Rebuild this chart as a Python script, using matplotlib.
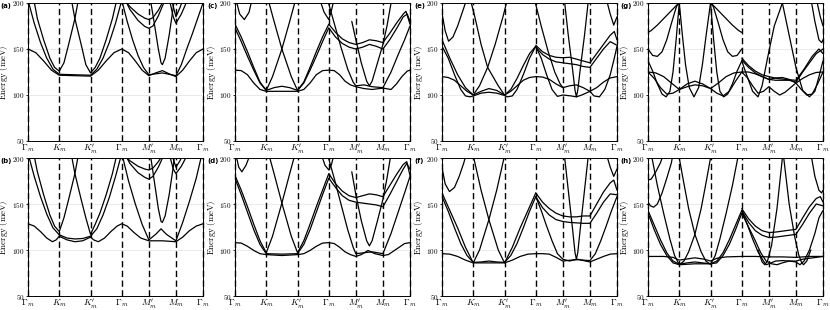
import numpy as np
import matplotlib
matplotlib.use("Agg")
import matplotlib.pyplot as plt

plt.rcParams['mathtext.fontset'] = 'cm'
plt.rcParams['font.family'] = 'serif'
plt.rcParams['font.serif'] = ['DejaVu Serif']

# high-symmetry path: Gamma-K-K'-Gamma-M'-M-Gamma, position s = segment index + fraction
tick_labels = [r'$\Gamma_m$', r'$K_m$', r"$K_m'$", r'$\Gamma_m$', r"$M_m'$", r'$M_m$', r'$\Gamma_m$']
seg_len = [1 / np.sqrt(3)] * 3 + [0.5] * 3
yticks = [50, 100, 150, 200]
panel_names = ['(a)', '(b)', '(c)', '(d)', '(e)', '(f)', '(g)', '(h)']

# bands: lists of (s, energy in meV)
bands_a = [
    [(0,150),(0.25,146),(0.5,137),(0.75,127),(1,121.5),(1.5,121),(2,120.5),(2.25,127),(2.5,137),(2.75,146),(3,150),
     (3.25,146),(3.5,137),(3.75,127),(4,121),(4.25,124),(4.5,126.5),(4.75,123),(5,120),(5.25,127),(5.5,137),(5.75,146),(6,150)],
    [(0,203),(0.2,178),(0.4,157),(0.6,140),(0.8,128),(1,122.5),(1.5,122),(2,121.5),(2.2,128),(2.4,140),(2.6,157),(2.8,178),(3,203),
     (3.2,180),(3.4,160),(3.6,143),(3.8,130),(4,122),(4.5,124),(5,121),(5.2,133),(5.4,150),(5.6,166),(5.8,183),(6,200)],
    [(0.15,210),(0.3,183),(0.5,160),(0.7,140),(0.85,130),(1,126),(1.15,135),(1.3,155),(1.5,183),(1.62,205)],
    [(1.38,205),(1.5,183),(1.7,155),(1.85,133),(2,124),(2.15,130),(2.3,140),(2.5,160),(2.7,183),(2.85,205)],
    [(3.05,205),(3.3,196),(3.6,188),(3.85,183.5),(4,182),(4.15,184),(4.35,192),(4.55,203)],
    [(3.1,205),(3.3,193),(3.6,181),(3.85,174.5),(4,172.5),(4.15,175),(4.35,186),(4.55,200),(4.65,208)],
    [(4.05,205),(4.2,178),(4.35,150),(4.45,135),(4.5,133),(4.6,140),(4.75,165),(4.9,195),(4.95,205)],
    [(4.8,208),(5,185),(5.15,195),(5.3,207)],
    [(4.75,205),(4.9,185),(5,178),(5.2,188),(5.45,205)],
]

bands_b = [
    [(0,128.5),(0.2,126),(0.4,120),(0.6,113),(0.78,109),(0.9,111),(1,115),(1.25,111),(1.5,109),(1.75,110),(2,114),(2.1,111),
     (2.25,109),(2.45,113),(2.65,120),(2.85,126),(3,128.5),(3.2,126),(3.45,119),(3.7,113),(4,110),(4.5,110),(5,109),
     (5.25,114),(5.5,121),(5.75,126),(6,128.5)],
    [(0,205),(0.2,180),(0.4,158),(0.6,139),(0.8,124),(1,116.5),(1.25,113),(1.5,112),(1.75,112.5),(2,115),(2.2,123),(2.4,138),
     (2.6,157),(2.8,180),(3,205),(3.25,175),(3.5,150),(3.75,128),(4,111),(4.25,117),(4.45,123),(4.65,117),(5,110),
     (5.25,130),(5.5,153),(5.75,178),(5.95,203)],
    [(0.15,210),(0.3,185),(0.5,160),(0.7,138),(0.85,126),(1,120),(1.15,135),(1.3,155),(1.5,183),(1.62,205)],
    [(1.38,205),(1.5,183),(1.7,155),(1.85,135),(2,117),(2.15,128),(2.3,140),(2.5,160),(2.7,183),(2.85,205)],
    [(3.05,205),(3.3,197),(3.6,191),(3.85,188),(4,187),(4.15,189),(4.35,196),(4.55,205)],
    [(3.1,205),(3.3,194),(3.6,184),(3.85,179),(4,177),(4.15,180),(4.35,190),(4.55,203)],
    [(4.05,205),(4.2,175),(4.35,145),(4.45,131),(4.5,130),(4.6,137),(4.75,160),(4.9,190),(4.95,205)],
    [(4.8,208),(5,190),(5.15,197),(5.3,207)],
    [(4.75,205),(4.9,188),(5,183),(5.2,191),(5.45,205)],
]

bands_c = [
    [(0,127),(0.2,126.5),(0.4,122),(0.6,113),(0.8,106),(1,104),(1.5,104),(2,104),(2.2,106),(2.4,113),(2.6,122),(2.8,126.5),(3,127),
     (3.2,126.5),(3.4,122),(3.6,115),(3.8,111),(4,109),(4.3,107),(4.6,106),(5,107.5),(5.3,106),(5.5,112),(5.7,120),(5.9,126),(6,127)],
    [(0,173),(0.2,158),(0.4,142),(0.6,127),(0.8,113),(1,105),(1.25,108),(1.5,109.5),(1.75,108),(2,105),(2.2,113),(2.4,127),(2.6,142),
     (2.8,158),(3,173),(3.25,163),(3.5,156),(3.75,152),(4,150),(4.25,152),(4.5,155),(4.75,153),(5,150),(5.25,160),(5.5,172),
     (5.75,185),(5.9,188),(6,180)],
    [(0,177),(0.2,163),(0.4,147),(0.6,130),(0.8,114),(1,105),(1.2,120),(1.5,150),(1.75,180),(1.95,205)],
    [(1.05,205),(1.25,180),(1.5,150),(1.8,120),(2,105),(2.2,114),(2.4,130),(2.6,147),(2.8,163),(3,177),(3.25,168),(3.5,161),
     (3.75,157),(4,155),(4.25,157),(4.5,160),(4.75,159),(5,157),(5.25,167),(5.5,178),(5.75,188),(5.85,191),(6,177)],
    [(2.95,205),(3.2,178),(3.45,152),(3.7,128),(3.9,114),(4,110),(4.3,111),(4.6,109),(5,108),(5.3,125),(5.55,143),(5.8,160),(6,175)],
    [(3.85,180),(4,160),(4.2,135),(4.4,115),(4.5,110),(4.6,115),(4.8,135),(5,155),(5.15,175),(5.3,200)],
    [(0.02,205),(0.15,188),(0.3,182),(0.45,190),(0.55,205)],
    [(2.7,205),(2.85,190),(3,182),(3.1,192),(3.2,205)],
]

bands_d = [
    [(0,108),(0.2,107.5),(0.4,104),(0.6,99.5),(0.8,96),(1,95),(1.5,94),(2,95),(2.2,96),(2.4,99.5),(2.6,104),(2.8,107.5),(3,108),
     (3.2,107),(3.4,103),(3.6,98),(3.8,95),(4,93),(4.2,95),(4.45,99.5),(4.7,96),(5,94),(5.2,95),(5.4,99),(5.6,103),(5.8,107),(6,108)],
    [(0,178),(0.2,160),(0.4,141),(0.6,122),(0.8,106),(1,96),(1.5,95.5),(2,96),(2.2,106),(2.4,122),(2.6,141),(2.8,160),(3,178),
     (3.25,168),(3.5,159),(3.75,154),(4,152),(4.25,151),(4.5,150),(4.75,149),(5,147),(5.25,160),(5.5,174),(5.75,188),(5.88,194),(6,188)],
    [(0,181),(0.2,165),(0.4,147),(0.6,128),(0.8,110),(1,97),(1.2,115),(1.5,151),(1.75,183),(1.95,208)],
    [(1.05,208),(1.25,183),(1.5,151),(1.8,115),(2,97),(2.2,110),(2.4,128),(2.6,147),(2.8,165),(3,183),(3.25,172),(3.5,164),
     (3.75,159),(4,157),(4.25,159),(4.5,161),(4.75,160),(5,158),(5.25,170),(5.5,182),(5.75,193),(5.88,196),(6,181)],
    [(2.95,205),(3.2,178),(3.45,150),(3.7,122),(3.9,103),(4,96),(4.3,97),(4.6,98),(5,96),(5.3,118),(5.55,140),(5.8,162),(6,180)],
    [(3.85,185),(4,160),(4.2,132),(4.4,110),(4.5,104.5),(4.6,110),(4.8,132),(5,155),(5.15,178),(5.3,205)],
    [(0.02,205),(0.12,190),(0.22,185),(0.35,192),(0.5,205)],
    [(2.75,205),(2.88,192),(3,187),(3.1,193),(3.2,205)],
]

bands_e = [
    [(0,120),(0.2,119),(0.4,116),(0.6,110),(0.8,104),(1,100),(1.25,104),(1.5,107),(1.75,105),(2,100),(2.2,104),(2.4,110),(2.6,116),
     (2.8,119),(3,120),(3.25,119.5),(3.5,117),(3.75,112),(4,108),(4.25,110),(4.5,111),(4.75,108),(5,104),(5.25,108),(5.5,114),
     (5.75,118.5),(6,120)],
    [(0,153),(0.2,140),(0.4,122),(0.6,106),(0.75,99),(0.9,98),(1,99),(1.25,102),(1.5,103),(1.75,102),(2,99.5),(2.1,98),(2.25,99),
     (2.4,106),(2.6,122),(2.8,140),(3,153),(3.2,140),(3.4,122),(3.6,106),(3.8,98.5),(4,100),(4.3,99),(4.5,98),(4.7,100),(5,104),
     (5.15,99),(5.35,98),(5.55,106),(5.75,122),(5.9,140),(6,153)],
    [(0,160),(0.25,140),(0.5,122),(0.75,108),(1,100),(1.2,110),(1.46,130),(1.7,155),(1.95,185),(2.1,205)],
    [(0.9,205),(1.05,185),(1.25,155),(1.46,130),(1.8,110),(2,100),(2.2,106),(2.4,118),(2.6,132),(2.8,145),(3,153)],
    [(0,189),(0.1,170),(0.21,158.5),(0.35,163),(0.5,175),(0.65,190),(0.8,205)],
    [(3,154),(3.25,147),(3.5,143),(3.75,141),(4,140.5),(4.25,141),(4.5,139),(4.75,137),(5,135),(5.25,145),(5.5,155),
     (5.75,165),(5.9,169),(6,160)],
    [(3,152),(3.25,144),(3.5,139),(3.75,136),(4,135),(4.25,134),(4.5,133),(4.75,131),(5,130),(5.25,140),(5.5,150),(5.75,158),(6,154)],
    [(4.05,205),(4.2,165),(4.35,130),(4.45,105),(4.5,98),(4.55,105),(4.65,130),(4.8,165),(4.95,205)],
    [(2.95,205),(3.2,175),(3.45,148),(3.7,125),(3.9,112),(4,108)],
    [(5.6,205),(5.75,188),(5.88,176),(6,185)],
]

bands_f = [
    [(0,96),(0.25,95.5),(0.5,93),(0.75,89),(1,86),(1.5,86),(2,86),(2.25,89),(2.5,93),(2.75,95.5),(3,96),(3.25,96),(3.5,95.5),
     (3.75,92),(4,88),(4.3,89),(4.6,89.5),(5,87),(5.25,90),(5.5,93),(5.75,95.5),(6,96)],
    [(0,158),(0.2,142),(0.4,124),(0.6,107),(0.8,94),(1,86.5),(1.25,87),(1.5,88),(1.75,87),(2,86.5),(2.2,94),(2.4,107),(2.6,124),
     (2.8,142),(3,158),(3.2,143),(3.4,126),(3.6,110),(3.8,96),(4,90),(4.25,88),(4.5,90),(4.75,89),(5,88.5),(5.2,96),(5.4,110),
     (5.6,126),(5.8,143),(6,158)],
    [(0,162),(0.25,143),(0.5,124),(0.75,103),(1,86),(1.2,100),(1.5,133),(1.75,165),(1.95,195),(2.02,205)],
    [(0.98,205),(1.05,195),(1.25,165),(1.5,133),(1.8,100),(2,86),(2.25,103),(2.5,124),(2.75,143),(3,162)],
    [(3,162),(3.25,152),(3.5,145),(3.75,140),(4,137),(4.25,136),(4.5,136),(4.75,137),(5,137),(5.25,150),(5.5,163),(5.75,173),
     (5.88,176),(6,165)],
    [(3,158),(3.25,146),(3.5,138),(3.75,133),(4,131),(4.25,130),(4.5,129.5),(4.75,129),(5,129),(5.25,140),(5.5,152),(5.75,161),(6,160)],
    [(4.05,205),(4.2,165),(4.35,125),(4.45,97),(4.5,90),(4.55,97),(4.65,125),(4.8,165),(4.95,205)],
    [(0,190),(0.1,172),(0.24,163.5),(0.4,168),(0.55,180),(0.7,195),(0.78,205)],
    [(5.6,205),(5.75,190),(5.88,180),(6,188)],
]

bands_g = [
    [(0,125),(0.25,124),(0.5,120),(0.75,113),(1,106),(1.25,112),(1.5,115),(1.75,112),(2,107),(2.25,113),(2.5,120),(2.75,124),(3,125),
     (3.25,125),(3.5,123),(3.75,120),(4,117),(4.25,118.5),(4.5,119),(4.75,117),(5,113),(5.25,118),(5.5,122),(5.75,124.5),(6,125)],
    [(0,125),(0.2,118),(0.4,108),(0.6,101),(0.8,102),(1,106),(1.25,109),(1.5,111),(1.75,110),(2,107),(2.2,102),(2.4,99),(2.6,104),
     (2.8,115),(3,125),(3.2,119),(3.4,110),(3.6,102),(3.8,104),(4,109),(4.2,104),(4.4,100),(4.6,103),(4.8,108),(5,113),(5.2,106),
     (5.4,100),(5.6,101),(5.8,112),(6,125)],
    [(0,137),(0.15,126),(0.3,112),(0.45,101),(0.58,98),(0.7,104),(0.8,125),(0.9,160),(1,200)],
    [(1,200),(1.1,165),(1.2,133),(1.32,108),(1.47,98),(1.62,108),(1.74,133),(1.86,165),(2,200)],
    [(2,200),(2.1,160),(2.2,125),(2.3,104),(2.42,98),(2.55,101),(2.7,112),(2.85,126),(3,137)],
    [(0,168),(0.1,170),(0.3,176),(0.5,183),(0.7,190),(0.9,197),(1,200)],
    [(0,150),(0.15,143),(0.3,142),(0.45,147),(0.6,160),(0.75,178),(0.9,195),(1,203)],
    [(2,200),(2.1,197),(2.3,190),(2.5,183),(2.7,176),(2.9,170),(3,168)],
    [(2,203),(2.1,195),(2.25,178),(2.4,160),(2.55,147),(2.7,142),(2.85,143),(3,150)],
    [(3,137),(3.2,120),(3.4,104),(3.6,98),(3.75,110),(3.95,140),(4.2,175),(4.5,200)],
    [(4.5,200),(4.75,165),(5,130),(5.25,105),(5.5,98),(5.7,104),(5.85,120),(6,137)],
    [(3,138),(3.25,130),(3.5,124),(3.75,120),(4,117),(4.25,116),(4.5,116),(4.75,116),(5,114),(5.25,125),(5.5,135),(5.75,145),(6,150)],
    [(3,140),(3.25,132),(3.5,126),(3.75,122),(4,120),(4.3,118),(4.6,117),(5,116),(5.3,128),(5.6,142),(5.85,150),(6,145)],
    [(5.55,205),(5.7,180),(5.85,160),(5.95,157),(6,160)],
    [(5.75,205),(5.9,185),(6,175)],
]

bands_h = [
    [(0,93),(0.5,93),(0.8,92),(1,89),(1.2,90),(1.5,91.5),(1.8,90),(2,88),(2.2,91),(2.5,92.5),(3,93),(3.5,93),(4,92.5),(4.5,92.5),
     (5,92),(5.5,93),(6,93)],
    [(0,143),(0.2,127),(0.4,111),(0.6,97),(0.8,88),(1,84.5),(1.25,86),(1.5,87),(1.75,86),(2,85),(2.2,88),(2.4,97),(2.6,111),
     (2.8,127),(3,143),(3.2,128),(3.4,112),(3.6,98),(3.8,88),(3.9,84),(4,85),(4.25,88),(4.5,88.5),(4.75,88),(5,87),(5.15,84),
     (5.3,88),(5.5,100),(5.7,118),(5.85,135),(6,143)],
    [(0,140),(0.2,122),(0.4,106),(0.6,94),(0.8,86),(1,84),(1.5,85),(2,85),(2.2,86),(2.4,94),(2.6,106),(2.8,122),(3,140),
     (3.25,125),(3.5,110),(3.7,97),(3.9,88),(4.1,85),(4.3,84),(4.5,86),(4.75,88),(5,88),(5.25,90),(5.5,91),(5.75,92),(6,93)],
    [(0.1,205),(0.3,170),(0.5,140),(0.7,112),(0.85,94),(1,84),(1.15,88),(1.3,98),(1.5,117),(1.7,145),(1.85,172),(2,200)],
    [(1,200),(1.15,172),(1.3,145),(1.5,117),(1.7,98),(1.85,88),(2,84.5),(2.15,94),(2.3,112),(2.5,140),(2.7,170),(2.9,205)],
    [(0,152),(0.08,148),(0.18,146.5),(0.3,150),(0.45,162),(0.6,178),(0.75,195),(0.8,205)],
    [(0,176),(0.1,177),(0.25,185),(0.4,195),(0.5,205)],
    [(3,145),(3.25,134),(3.5,126),(3.75,121),(4,119),(4.25,119.5),(4.5,120.5),(4.75,121.5),(5,122.5),(5.25,135),(5.5,147),
     (5.75,156),(5.9,158),(6,152)],
    [(3,143),(3.25,130),(3.5,121),(3.75,116),(4,113.6),(4.25,114),(4.5,115),(4.75,116),(5,117),(5.25,128),(5.5,140),(5.75,150),(6,148)],
    [(3.6,100),(3.75,87),(3.85,84),(3.95,88),(4.1,105),(4.3,145),(4.5,200)],
    [(4.55,200),(4.75,150),(4.95,115),(5.1,95),(5.2,87),(5.28,84),(5.4,88),(5.55,100)],
    [(5.55,205),(5.7,180),(5.85,165),(5.95,162),(6,165)],
]

all_bands = [bands_a, bands_b, bands_c, bands_d, bands_e, bands_f, bands_g, bands_h]

knots = np.concatenate([[0], np.cumsum(seg_len)])


def path_k(s):
    s = np.asarray(s, float)
    i = np.clip(np.floor(s).astype(int), 0, 5)
    return knots[i] + (s - i) * np.asarray(seg_len)[i]


fig = plt.figure(figsize=(8.3, 3.1), dpi=100)
W, H = 830, 310
col_left = [28, 235, 442, 648]
col_w = 175
row_top = [3, 158]
row_h = 138

for idx, bands in enumerate(all_bands):
    col, row = idx // 2, idx % 2
    ax = fig.add_axes([col_left[col] / W, 1 - (row_top[row] + row_h) / H, col_w / W, row_h / H])
    for y in [100, 150]:
        ax.axhline(y, color='#e6e6e6', lw=0.6, zorder=0)
    for band in bands:
        s, e = zip(*band)
        ax.plot(path_k(s), e, color='black', lw=0.9, solid_capstyle='round')
    for k in knots:
        ax.axvline(k, color='black', lw=1.0, ls=(0, (4.5, 2.5)), zorder=3, clip_on=False)
    ax.set_xlim(knots[0], knots[-1])
    ax.set_ylim(50, 200)
    ax.set_xticks(knots)
    ax.set_xticklabels(tick_labels, fontsize=6.5)
    ax.set_yticks(yticks)
    ax.set_yticklabels([rf'${v}$' for v in yticks], fontsize=5.2)
    ax.tick_params(axis='x', length=0, pad=1)
    ax.tick_params(axis='y', length=1.5, width=0.6, pad=1)
    ax.set_ylabel(r'$\mathrm{Energy\ (meV)}$', fontsize=6.3)
    ax.yaxis.set_label_coords(-0.1, 0.5)
    for sp in ax.spines.values():
        sp.set_linewidth(0.7)
    fig.text((col_left[col] - 28) / W + 0.0005, 1 - (row_top[row] + 3) / H, panel_names[idx],
             fontsize=5, fontweight='bold', family='DejaVu Sans', va='center', ha='left')

fig.savefig('out.png', dpi=100)
